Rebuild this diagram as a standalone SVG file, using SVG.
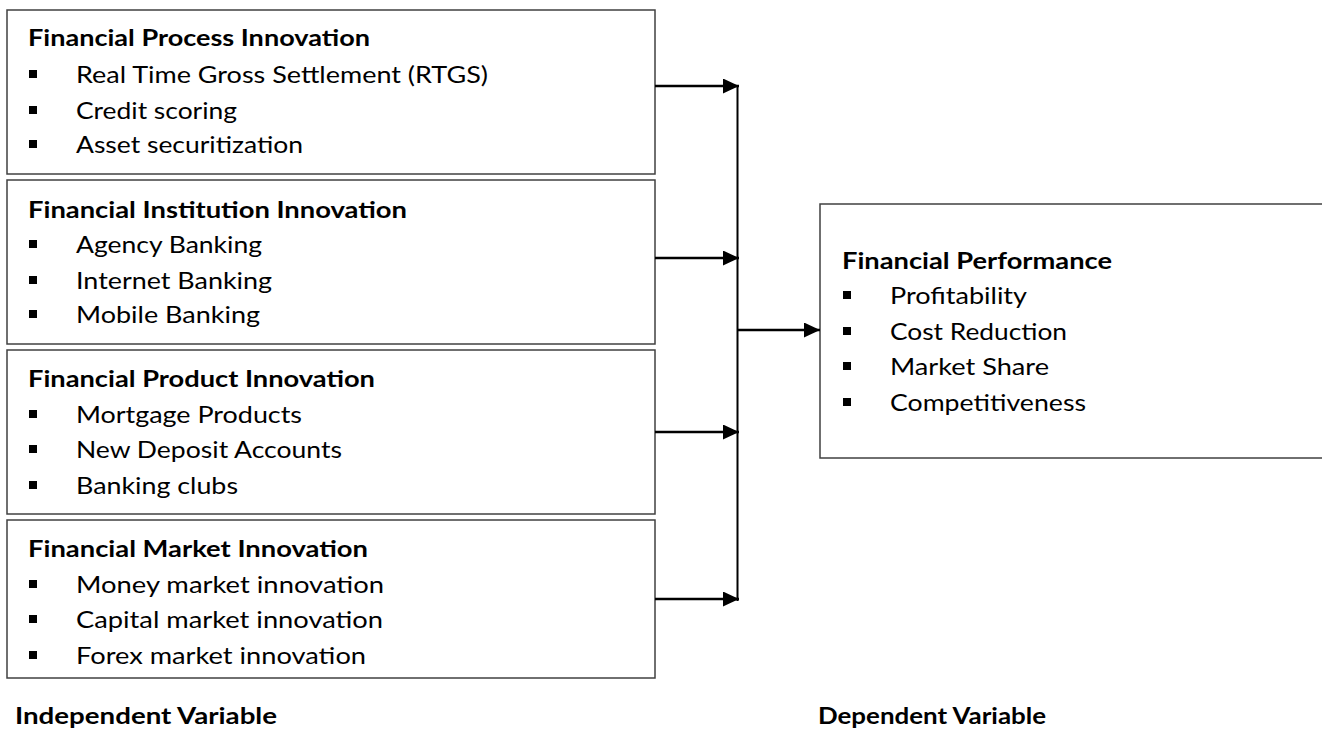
<svg xmlns="http://www.w3.org/2000/svg" width="1322" height="729" viewBox="0 0 1322 729">
<style>
.box{fill:#ffffff;stroke:#404040;stroke-width:1.5}
.t{font-family:Lato,"Open Sans","Liberation Sans",sans-serif;font-size:23.5px;fill:#000}
.b{font-weight:bold}
.bul{fill:#000}
.ln{stroke:#000;stroke-width:2.5;fill:none}
</style>
<defs>
<marker id="ah" markerUnits="userSpaceOnUse" markerWidth="17" markerHeight="16" refX="16" refY="7.5" orient="auto">
<path d="M0,0 L16,7.5 L0,15 z" fill="#000"/>
</marker>
</defs>
<rect width="1322" height="729" fill="#fff"/>
<g id="process">
<rect class="box" x="7" y="10" width="648" height="164"/>
<text class="t b" x="28" y="46" textLength="342" lengthAdjust="spacingAndGlyphs">Financial Process Innovation</text>
<rect class="bul" x="29" y="70" width="8" height="8"/>
<text class="t" x="76" y="83" textLength="412" lengthAdjust="spacingAndGlyphs">Real Time Gross Settlement (RTGS)</text>
<rect class="bul" x="29" y="106" width="8" height="8"/>
<text class="t" x="76" y="119" textLength="161" lengthAdjust="spacingAndGlyphs">Credit scoring</text>
<rect class="bul" x="29" y="140" width="8" height="8"/>
<text class="t" x="76" y="153" textLength="227" lengthAdjust="spacingAndGlyphs">Asset securitization</text>
</g>
<g id="institution">
<rect class="box" x="7" y="180" width="648" height="164"/>
<text class="t b" x="28" y="218" textLength="379" lengthAdjust="spacingAndGlyphs">Financial Institution Innovation</text>
<rect class="bul" x="29" y="240" width="8" height="8"/>
<text class="t" x="76" y="253" textLength="186" lengthAdjust="spacingAndGlyphs">Agency Banking</text>
<rect class="bul" x="29" y="276" width="8" height="8"/>
<text class="t" x="76" y="289" textLength="196" lengthAdjust="spacingAndGlyphs">Internet Banking</text>
<rect class="bul" x="29" y="310" width="8" height="8"/>
<text class="t" x="76" y="323" textLength="184" lengthAdjust="spacingAndGlyphs">Mobile Banking</text>
</g>
<g id="product">
<rect class="box" x="7" y="350" width="648" height="164"/>
<text class="t b" x="28" y="387" textLength="347" lengthAdjust="spacingAndGlyphs">Financial Product Innovation</text>
<rect class="bul" x="29" y="410" width="8" height="8"/>
<text class="t" x="76" y="423" textLength="226" lengthAdjust="spacingAndGlyphs">Mortgage Products</text>
<rect class="bul" x="29" y="445" width="8" height="8"/>
<text class="t" x="76" y="458" textLength="266" lengthAdjust="spacingAndGlyphs">New Deposit Accounts</text>
<rect class="bul" x="29" y="481" width="8" height="8"/>
<text class="t" x="76" y="494" textLength="162" lengthAdjust="spacingAndGlyphs">Banking clubs</text>
</g>
<g id="market">
<rect class="box" x="7" y="520" width="648" height="158"/>
<text class="t b" x="28" y="557" textLength="340" lengthAdjust="spacingAndGlyphs">Financial Market Innovation</text>
<rect class="bul" x="29" y="580" width="8" height="8"/>
<text class="t" x="76" y="593" textLength="308" lengthAdjust="spacingAndGlyphs">Money market innovation</text>
<rect class="bul" x="29" y="615" width="8" height="8"/>
<text class="t" x="76" y="628" textLength="307" lengthAdjust="spacingAndGlyphs">Capital market innovation</text>
<rect class="bul" x="29" y="651" width="8" height="8"/>
<text class="t" x="76" y="664" textLength="290" lengthAdjust="spacingAndGlyphs">Forex market innovation</text>
</g>
<g id="performance">
<rect class="box" x="820" y="204" width="520" height="254"/>
<text class="t b" x="842" y="269" textLength="270" lengthAdjust="spacingAndGlyphs">Financial Performance</text>
<rect class="bul" x="843" y="291" width="8" height="8"/>
<text class="t" x="890" y="304" textLength="137" lengthAdjust="spacingAndGlyphs">Profitability</text>
<rect class="bul" x="843" y="327" width="8" height="8"/>
<text class="t" x="890" y="340" textLength="177" lengthAdjust="spacingAndGlyphs">Cost Reduction</text>
<rect class="bul" x="843" y="362" width="8" height="8"/>
<text class="t" x="890" y="375" textLength="159" lengthAdjust="spacingAndGlyphs">Market Share</text>
<rect class="bul" x="843" y="398" width="8" height="8"/>
<text class="t" x="890" y="411" textLength="196" lengthAdjust="spacingAndGlyphs">Competitiveness</text>
</g>
<g id="labels">
<text class="t b" x="15" y="724" textLength="262" lengthAdjust="spacingAndGlyphs">Independent Variable</text>
<text class="t b" x="818" y="724" textLength="228" lengthAdjust="spacingAndGlyphs">Dependent Variable</text>
</g>
<g id="connectors">
<line x1="737.5" y1="85" x2="737.5" y2="601" stroke="#000" stroke-width="2"/>
<path class="ln" d="M655,86 H739" marker-end="url(#ah)"/>
<path class="ln" d="M655,258 H739" marker-end="url(#ah)"/>
<path class="ln" d="M655,432 H739" marker-end="url(#ah)"/>
<path class="ln" d="M655,599 H739" marker-end="url(#ah)"/>
<path class="ln" d="M737,330 H820" marker-end="url(#ah)"/>
</g>
</svg>
